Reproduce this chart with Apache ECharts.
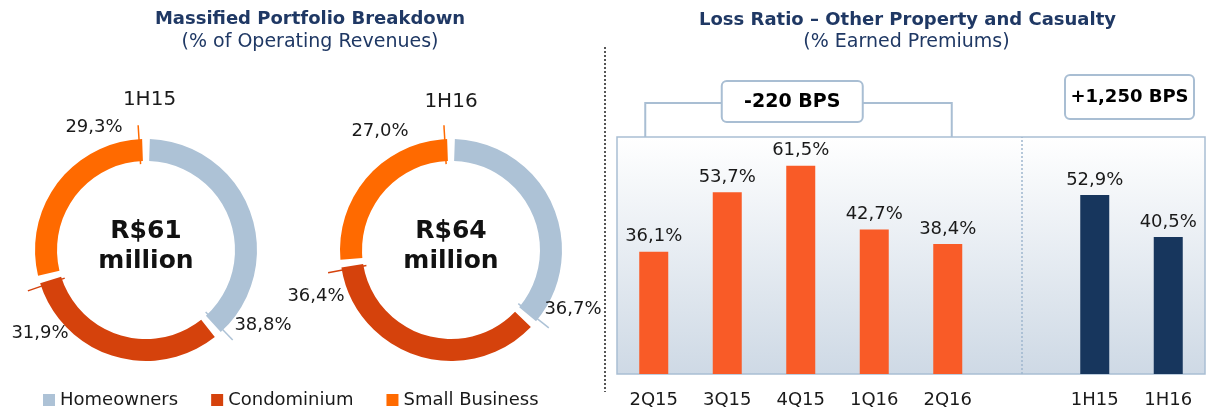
<!DOCTYPE html>
<html><head><meta charset="utf-8">
<script src="https://cdn.jsdelivr.net/npm/echarts@6/dist/echarts.min.js"></script>
<style>html,body{margin:0;padding:0;background:#fff}#c{width:1208px;height:409px}</style>
</head><body><div id="c"></div>
<script>
// ---------- data ----------
const donutCategories = ['Homeowners', 'Condominium', 'Small Business'];
const donutPeriods = ['1H15', '1H16'];
const share1H15 = [38.8, 31.9, 29.3];
const share1H16 = [36.7, 36.4, 27.0];
const totalsMillion = [61, 64];

const lossCategories = ['2Q15', '3Q15', '4Q15', '1Q16', '2Q16', '', '1H15', '1H16'];
const quarterlyLoss = [36.1, 53.7, 61.5, 42.7, 38.4, '-', '-', '-'];
const halfYearLoss = ['-', '-', '-', '-', '-', '-', 52.9, 40.5];
const changeLabels = ['-220 BPS', '+1,250 BPS'];

// ---------- styles / layout ----------
const FONT = '"DejaVu Sans", Verdana, sans-serif';
const NAVY = '#1F3864';
const TXT = '#1a1a1a';
const sliceColors = ['#ADC2D6', '#D5420C', '#FF6A00'];
const donutLayout = [
  { center: [146, 250], titleX: 149.5, titleY: 100, labelOffsets: [[117, 75], [-106, 83], [-52, -123]] },
  { center: [451, 250], titleX: 451, titleY: 102, labelOffsets: [[122, 59], [-135, 46], [-71, -119]] }
];
const fmt = v => Number(v).toFixed(1).replace('.', ',') + '%';
const shares = [share1H15, share1H16];

const chart = echarts.init(document.getElementById('c'), null, { renderer: 'canvas' });

function pieSeries(i) {
  const L = donutLayout[i];
  return {
    type: 'pie', name: donutPeriods[i], center: L.center, radius: [89, 111],
    startAngle: 90, clockwise: true, padAngle: 4, avoidLabelOverlap: false,
    silent: true, animation: false,
    label: { show: true, formatter: p => fmt(p.value), fontFamily: FONT, fontSize: 18, color: TXT },
    labelLine: { show: false },
    labelLayout: p => {
      const o = L.labelOffsets[p.dataIndex];
      return { x: L.center[0] + o[0], y: L.center[1] + o[1], align: 'center', verticalAlign: 'middle' };
    },
    data: donutCategories.map((n, k) => ({ name: n, value: shares[i][k], itemStyle: { color: sliceColors[k] } }))
  };
}

function leaderSeries(i) {
  let cum = 0;
  const data = shares[i].map((v, k) => { cum += v; return { value: [0, cum], itemStyle: { color: sliceColors[k] } }; });
  return {
    type: 'custom', coordinateSystem: 'polar', polarIndex: i, silent: true, animation: false,
    data,
    renderItem: (params, api) => {
      const a = api.value(1) - 1;
      const p1 = api.coord([86, a]);
      const p2 = api.coord([125, a]);
      return { type: 'line', shape: { x1: p1[0], y1: p1[1], x2: p2[0], y2: p2[1] },
               style: { stroke: api.visual('color'), lineWidth: 1.5 } };
    }
  };
}

const hiddenAxis = { show: false, axisLine: { show: false }, axisTick: { show: false }, axisLabel: { show: false }, splitLine: { show: false } };

const option = {
  animation: false,
  textStyle: { fontFamily: FONT },
  legend: {
    data: donutCategories, left: 38, top: 386, icon: 'rect', itemWidth: 12, itemHeight: 12, itemGap: 33,
    selectedMode: false, textStyle: { fontSize: 18, color: TXT, fontFamily: FONT }
  },
  polar: donutLayout.map(L => ({ center: L.center, radius: 130 })),
  angleAxis: donutLayout.map((L, i) => Object.assign({ polarIndex: i, type: 'value', min: 0, max: 100, startAngle: 90, clockwise: true }, hiddenAxis)),
  radiusAxis: donutLayout.map((L, i) => Object.assign({ polarIndex: i, type: 'value', min: 0, max: 130 }, hiddenAxis)),
  grid: {
    left: 617, top: 137, right: 3, bottom: 34, show: true,
    backgroundColor: new echarts.graphic.LinearGradient(0, 0, 0, 1, [
      { offset: 0, color: '#FFFFFF' }, { offset: 1, color: '#CED9E5' }
    ]),
    borderColor: '#A9BED3', borderWidth: 1.5
  },
  xAxis: {
    type: 'category', data: lossCategories,
    axisLine: { show: false }, axisTick: { show: false },
    axisLabel: { fontSize: 18, fontFamily: FONT, color: TXT, margin: 17, interval: 0 }
  },
  yAxis: { type: 'value', min: 0, max: 70, show: false },
  series: [
    pieSeries(0), pieSeries(1), leaderSeries(0), leaderSeries(1),
    {
      type: 'bar', name: 'Quarterly', data: quarterlyLoss, barWidth: 29, barGap: '-100%',
      itemStyle: { color: '#F95B27' }, silent: true,
      label: { show: true, position: 'top', distance: 6, formatter: p => fmt(p.value), fontSize: 18, fontFamily: FONT, color: TXT },
      markLine: {
        silent: true, symbol: 'none', label: { show: false },
        lineStyle: { color: '#9FB6CE', type: [2, 2], width: 1.5 },
        data: [{ xAxis: 5 }]
      }
    },
    {
      type: 'bar', name: 'Half-year', data: halfYearLoss, barWidth: 29, barGap: '-100%',
      itemStyle: { color: '#17365D' }, silent: true,
      label: { show: true, position: 'top', distance: 6, formatter: p => fmt(p.value), fontSize: 18, fontFamily: FONT, color: TXT }
    }
  ]
};
chart.setOption(option);

// ---------- annotations tied to the axis ----------
const px = c => chart.convertToPixel({ xAxisIndex: 0 }, c);
const xA = px(lossCategories[0]), xB = px(lossCategories[4]);
const xC = px(lossCategories[6]), xD = px(lossCategories[7]);
const gridTop = chart.convertToPixel({ yAxisIndex: 0 }, 70);
const bL = xA - 8.5, bR = xB + 4, bY = 103;
const box1W = 141, box1cx = (xA + xB) / 2 - 8.5;
const box2W = 129, box2cx = (xC + xD) / 2 - 2;
const BR = '#A9BED3';

const txt = (x, y, text, font, fill, extra) => ({
  type: 'text', x, y, silent: true,
  style: Object.assign({ text, font, fill, align: 'center', verticalAlign: 'middle' }, extra || {})
});

const graphics = [
  txt(310, 19, 'Massified Portfolio Breakdown', 'bold 18px ' + FONT, NAVY),
  txt(310, 42, '(% of Operating Revenues)', '19px ' + FONT, NAVY),
  txt(907.5, 20, 'Loss Ratio \u2013 Other Property and Casualty', 'bold 18px ' + FONT, NAVY),
  txt(906.5, 42, '(% Earned Premiums)', '19px ' + FONT, NAVY),
  txt(donutLayout[0].titleX, donutLayout[0].titleY, donutPeriods[0], '20px ' + FONT, TXT),
  txt(donutLayout[1].titleX, donutLayout[1].titleY, donutPeriods[1], '20px ' + FONT, TXT),
  txt(donutLayout[0].center[0], 246.5, 'R$' + totalsMillion[0] + '\nmillion', 'bold 25px ' + FONT, '#111', { lineHeight: 30 }),
  txt(donutLayout[1].center[0], 246.5, 'R$' + totalsMillion[1] + '\nmillion', 'bold 25px ' + FONT, '#111', { lineHeight: 30 }),
  { type: 'line', silent: true, shape: { x1: 605, y1: 47, x2: 605, y2: 392 }, style: { stroke: '#555', lineWidth: 2, lineDash: [2, 2] } },
  { type: 'polyline', silent: true, shape: { points: [[bL, gridTop], [bL, bY], [box1cx - box1W / 2, bY]] }, style: { stroke: BR, lineWidth: 2, fill: null } },
  { type: 'polyline', silent: true, shape: { points: [[box1cx + box1W / 2, bY], [bR, bY], [bR, gridTop]] }, style: { stroke: BR, lineWidth: 2, fill: null } },
  { type: 'rect', silent: true, shape: { x: box1cx - box1W / 2, y: 81, width: box1W, height: 41, r: 5 }, style: { fill: '#fff', stroke: BR, lineWidth: 2 } },
  txt(box1cx, 102, changeLabels[0], 'bold 19px ' + FONT, '#000'),
  { type: 'rect', silent: true, shape: { x: box2cx - box2W / 2, y: 75, width: box2W, height: 44, r: 5 }, style: { fill: '#fff', stroke: BR, lineWidth: 2 } },
  txt(box2cx, 97.5, changeLabels[1], 'bold 18px ' + FONT, '#000')
];
chart.setOption({ graphic: graphics });
</script>
</body></html>
